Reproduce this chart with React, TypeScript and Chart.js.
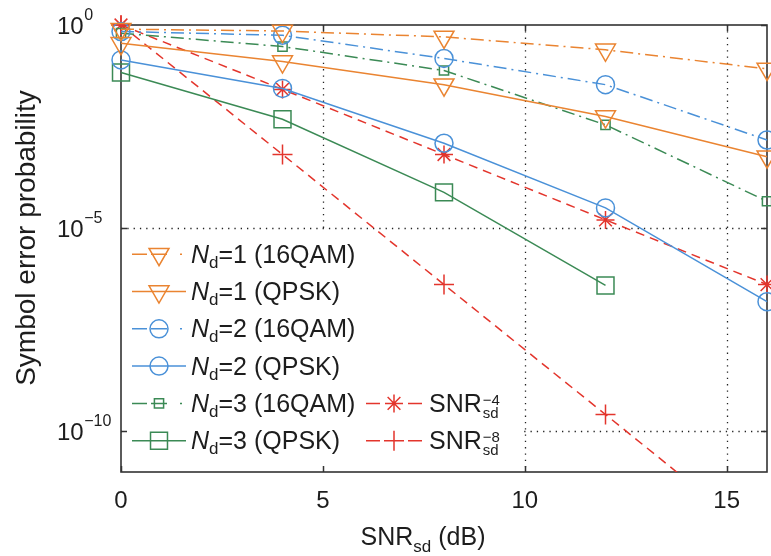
import React, { useEffect, useRef } from 'react';
import { Chart, registerables } from 'chart.js';

Chart.register(...registerables);

// ---------------- data ----------------
const snrDb = [0, 4, 8, 12, 16];
const nd1_16qam = [0.79, 0.71, 0.51, 0.245, 0.083];
const nd1_qpsk = [0.355, 0.126, 0.034, 0.0056, 5.75e-4];
const nd2_16qam = [0.69, 0.56, 0.15, 0.034, 1.48e-3];
const nd2_qpsk = [0.138, 0.0275, 1.23e-3, 3.16e-5, 1.55e-7];
const nd3_16qam = [0.63, 0.295, 0.076, 3.5e-3, 4.6e-5];
const nd3_qpsk = [0.068, 4.8e-3, 7.6e-5, 3.9e-7, null];
const snrPow4 = [1, 0.026, 6.5e-4, 1.6e-5, 4.1e-7];
const snrPow8 = [1, 6.5e-4, 4.1e-7, 2.6e-10, 1.6e-13];

const xTicks = [0, 5, 10, 15];
const yTicks = [1, 1e-5, 1e-10];
const yTickExps = ['0', '\u22125', '\u221210'];

const legendNd = ['1', '1', '2', '2', '3', '3'];
const legendMod = ['16QAM', 'QPSK', '16QAM', 'QPSK', '16QAM', 'QPSK'];
const legendSnrExp = ['\u22124', '\u22128'];

// ---------------- styles ----------------
const ORANGE = '#EA8431';
const BLUE = '#4A91D8';
const GREEN = '#3B8A55';
const RED = '#E3352C';
const TEXT = '#1d1d1d';
const FONT = '"Liberation Sans", Arial, Helvetica, sans-serif';
const DASHDOT = [13, 5, 2, 5];
const DASHED = [9, 6];
const W = 771;
const H = 556;

type Marker = 'triangleDown' | 'circle' | 'rect' | 'star' | 'cross';

const seriesDefs: { data: (number | null)[]; color: string; dash: number[]; marker: Marker; r: number; label: string }[] = [
  { data: nd1_16qam, color: ORANGE, dash: DASHDOT, marker: 'triangleDown', r: 11.5, label: 'Nd=1 (16QAM)' },
  { data: nd1_qpsk, color: ORANGE, dash: [], marker: 'triangleDown', r: 11.5, label: 'Nd=1 (QPSK)' },
  { data: nd2_16qam, color: BLUE, dash: DASHDOT, marker: 'circle', r: 9, label: 'Nd=2 (16QAM)' },
  { data: nd2_qpsk, color: BLUE, dash: [], marker: 'circle', r: 9, label: 'Nd=2 (QPSK)' },
  { data: nd3_16qam, color: GREEN, dash: DASHDOT, marker: 'rect', r: 6.5, label: 'Nd=3 (16QAM)' },
  { data: nd3_qpsk, color: GREEN, dash: [], marker: 'rect', r: 12, label: 'Nd=3 (QPSK)' },
  { data: snrPow4, color: RED, dash: DASHED, marker: 'star', r: 9, label: 'SNR^-4' },
  { data: snrPow8, color: RED, dash: DASHED, marker: 'cross', r: 10, label: 'SNR^-8' },
];

function pointStyleOf(m: Marker): any {
  if (m === 'triangleDown') return 'triangle';
  return m;
}

function drawMarker(ctx: CanvasRenderingContext2D, m: Marker, x: number, y: number, r: number) {
  ctx.beginPath();
  if (m === 'circle') {
    ctx.arc(x, y, r, 0, Math.PI * 2);
  } else if (m === 'triangleDown') {
    ctx.moveTo(x, y + r);
    ctx.lineTo(x - 0.866 * r, y - 0.5 * r);
    ctx.lineTo(x + 0.866 * r, y - 0.5 * r);
    ctx.closePath();
  } else if (m === 'rect') {
    const s = r * Math.SQRT1_2;
    ctx.rect(x - s, y - s, 2 * s, 2 * s);
  } else if (m === 'cross') {
    ctx.moveTo(x, y - r); ctx.lineTo(x, y + r);
    ctx.moveTo(x - r, y); ctx.lineTo(x + r, y);
  } else if (m === 'star') {
    for (let k = 0; k < 4; k++) {
      const a = (k * Math.PI) / 4;
      const dx = Math.sin(a) * r, dy = Math.cos(a) * r;
      ctx.moveTo(x - dx, y - dy); ctx.lineTo(x + dx, y + dy);
    }
  }
  ctx.stroke();
}

type Run = { t: string; size: number; italic?: boolean; dy?: number };
function fontOf(r: Run) {
  return `${r.italic ? 'italic ' : ''}${r.size}px ${FONT}`;
}
function runsWidth(ctx: CanvasRenderingContext2D, runs: Run[]) {
  let w = 0;
  for (const r of runs) { ctx.font = fontOf(r); w += ctx.measureText(r.t).width; }
  return w;
}
function drawRuns(ctx: CanvasRenderingContext2D, runs: Run[], x: number, y: number) {
  for (const r of runs) {
    ctx.font = fontOf(r);
    ctx.fillText(r.t, x, y + (r.dy || 0));
    x += ctx.measureText(r.t).width;
  }
  return x;
}

const decorPlugin = {
  id: 'decor',
  beforeDatasetsDraw(chart: any) {
    const { ctx, chartArea: a, scales } = chart;
    const xs = scales.x, ys = scales.y;
    ctx.save();
    // dotted grid
    ctx.strokeStyle = '#222';
    ctx.lineWidth = 1.3;
    ctx.setLineDash([1.3, 5]);
    for (const v of xTicks) {
      if (v === 0) continue;
      const px = Math.round(xs.getPixelForValue(v)) + 0.5;
      ctx.beginPath(); ctx.moveTo(px, a.top); ctx.lineTo(px, a.bottom); ctx.stroke();
    }
    for (const v of yTicks) {
      if (v === 1) continue;
      const py = Math.round(ys.getPixelForValue(v)) + 0.5;
      ctx.beginPath(); ctx.moveTo(a.left, py); ctx.lineTo(a.right, py); ctx.stroke();
    }
    ctx.setLineDash([]);
    // legend background
    ctx.fillStyle = '#fff';
    ctx.fillRect(a.left + 1, 233, 520 - a.left, a.bottom - 233 - 1);
    // ticks (inward)
    ctx.strokeStyle = '#333';
    ctx.lineWidth = 1.5;
    for (const v of xTicks) {
      const px = Math.round(xs.getPixelForValue(v)) + 0.5;
      ctx.beginPath();
      ctx.moveTo(px, a.bottom); ctx.lineTo(px, a.bottom - 6);
      ctx.moveTo(px, a.top); ctx.lineTo(px, a.top + 6);
      ctx.stroke();
    }
    for (const v of yTicks) {
      const py = Math.round(ys.getPixelForValue(v)) + 0.5;
      ctx.beginPath();
      ctx.moveTo(a.left, py); ctx.lineTo(a.left + 6, py);
      ctx.moveTo(a.right, py); ctx.lineTo(a.right - 6, py);
      ctx.stroke();
    }
    // frame
    ctx.strokeStyle = '#333';
    ctx.lineWidth = 1.6;
    ctx.strokeRect(a.left, a.top, a.right - a.left, a.bottom - a.top);
    ctx.restore();
  },
  afterDatasetsDraw(chart: any) {
    const { ctx, chartArea: a, scales } = chart;
    const xs = scales.x, ys = scales.y;
    ctx.save();
    ctx.fillStyle = TEXT;
    ctx.textBaseline = 'alphabetic';
    ctx.textAlign = 'left';

    // y tick labels
    yTicks.forEach((v, i) => {
      const py = ys.getPixelForValue(v);
      const base = py + 9;
      ctx.font = `24px ${FONT}`;
      ctx.fillText('10', 57, base);
      const w = ctx.measureText('10').width;
      ctx.font = `16px ${FONT}`;
      ctx.fillText(yTickExps[i], 57 + w + 0.5, base - 14);
    });

    // x tick labels
    ctx.textAlign = 'center';
    ctx.font = `24px ${FONT}`;
    for (const v of xTicks) {
      ctx.fillText(String(v), xs.getPixelForValue(v), 508);
    }
    ctx.textAlign = 'left';

    // x title
    const xt: Run[] = [
      { t: 'SNR', size: 25 },
      { t: 'sd', size: 17, dy: 7 },
      { t: ' (dB)', size: 25 },
    ];
    const xw = runsWidth(ctx, xt);
    drawRuns(ctx, xt, 423 - xw / 2, 545);

    // y title
    ctx.save();
    ctx.translate(35, 238);
    ctx.rotate(-Math.PI / 2);
    ctx.textAlign = 'center';
    ctx.font = `28px ${FONT}`;
    ctx.fillText('Symbol error probability', 0, 0);
    ctx.restore();

    // legend
    const rowY = (i: number) => 262.7 + 37.3 * i;
    const drawSample = (si: number, x0: number, x1: number, yc: number, legendDash: number[]) => {
      const s = seriesDefs[si];
      ctx.strokeStyle = s.color;
      ctx.lineWidth = 1.5;
      ctx.setLineDash(legendDash);
      ctx.beginPath(); ctx.moveTo(x0, yc); ctx.lineTo(x1, yc); ctx.stroke();
      ctx.setLineDash([]);
      drawMarker(ctx, s.marker, (x0 + x1) / 2, yc, s.r);
    };
    for (let i = 0; i < 6; i++) {
      const b = rowY(i);
      const s = seriesDefs[i];
      const legDash = s.dash.length ? [15, 4, 16, 13, 2, 100] : [];
      drawSample(i, 132, 186, b - 8.5, legDash);
      ctx.fillStyle = TEXT;
      drawRuns(ctx, [
        { t: 'N', size: 25, italic: true },
        { t: 'd', size: 17, dy: 5 },
        { t: `=${legendNd[i]} (${legendMod[i]})`, size: 25 },
      ], 191, b);
    }
    for (let k = 0; k < 2; k++) {
      const b = rowY(4 + k);
      drawSample(6 + k, 366, 422, b - 8.5, [14, 28, 14]);
      ctx.fillStyle = TEXT;
      const xEnd = drawRuns(ctx, [{ t: 'SNR', size: 25 }], 429, b);
      ctx.font = `15px ${FONT}`;
      ctx.fillText(legendSnrExp[k], xEnd + 1, b - 7);
      ctx.fillText('sd', xEnd + 1, b + 6);
    }
    ctx.restore();
  },
};

export default function App() {
  const ref = useRef<HTMLCanvasElement>(null);
  useEffect(() => {
    const datasets = seriesDefs.map((s) => ({
      label: s.label,
      data: snrDb
        .map((x, i) => ({ x, y: s.data[i] }))
        .filter((p) => p.y !== null) as { x: number; y: number }[],
      borderColor: s.color,
      backgroundColor: 'transparent',
      borderWidth: 1.5,
      borderDash: s.dash,
      pointStyle: pointStyleOf(s.marker),
      pointRotation: s.marker === 'triangleDown' ? 180 : 0,
      pointRadius: s.r,
      pointHoverRadius: s.r,
      pointBorderWidth: 1.5,
      pointBorderColor: s.color,
      pointBackgroundColor: 'transparent',
      tension: 0,
      fill: false,
      clip: { left: 20, right: 20, top: 20, bottom: 0 },
    }));
    const chart = new Chart(ref.current as HTMLCanvasElement, {
      type: 'line',
      data: { datasets },
      options: {
        animation: false,
        responsive: false,
        maintainAspectRatio: false,
        events: [],
        layout: { autoPadding: false, padding: { left: 121, top: 25, right: 4, bottom: 84 } },
        plugins: { legend: { display: false }, tooltip: { enabled: false } },
        scales: {
          x: { type: 'linear', min: 0, max: 16, display: false },
          y: { type: 'logarithmic', min: 1e-11, max: 1, display: false },
        },
      } as any,
      plugins: [decorPlugin],
    });
    return () => chart.destroy();
  }, []);
  return (
    <div style={{ position: 'fixed', left: 0, top: 0, width: W, height: H, background: '#fff' }}>
      <canvas ref={ref} width={W} height={H} style={{ display: 'block', width: W, height: H }} />
    </div>
  );
}
